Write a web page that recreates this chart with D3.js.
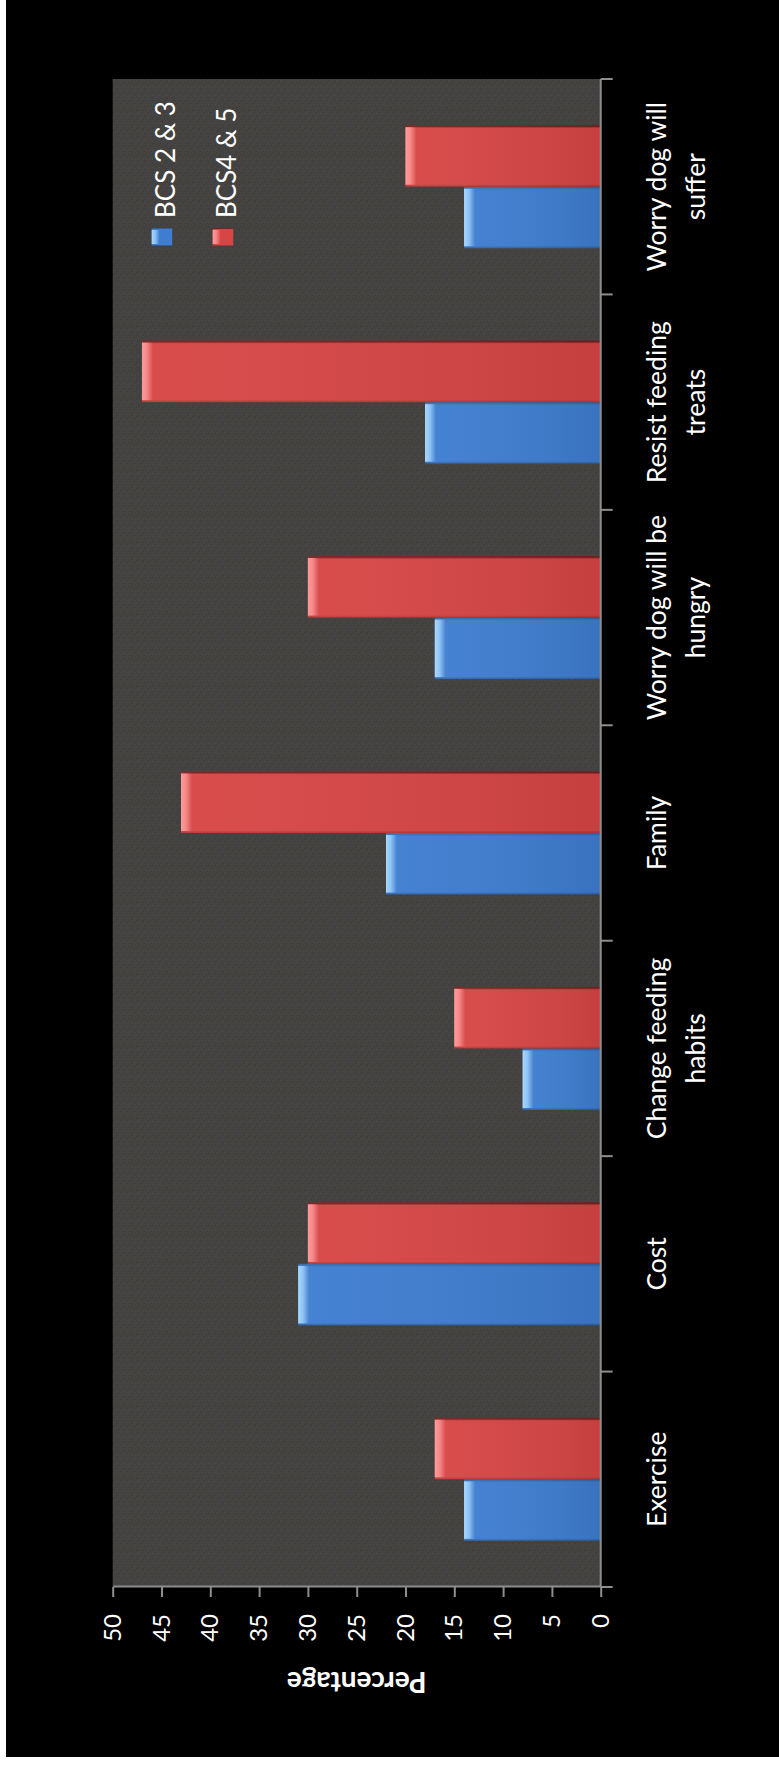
<!DOCTYPE html>
<html>
<head>
<meta charset="utf-8">
<script src="https://cdn.jsdelivr.net/npm/d3@7"></script>
<style>
  html, body { margin: 0; padding: 0; background: #ffffff; }
  svg { display: block; }
</style>
</head>
<body>
<script>
// ---- data ----
const categories = ["Exercise", "Cost", "Change feeding habits", "Family",
                    "Worry dog will be hungry", "Resist feeding treats", "Worry dog will suffer"];
const categoryLines = [["Exercise"], ["Cost"], ["Change feeding", "habits"], ["Family"],
                       ["Worry dog will be", "hungry"], ["Resist feeding", "treats"], ["Worry dog will", "suffer"]];
const seriesNames = ["BCS 2 & 3", "BCS4 & 5"];
const bcs23 = [14, 31, 8, 22, 17, 18, 14];
const bcs45 = [17, 30, 15, 43, 30, 47, 20];
const valueTicks = [0, 5, 10, 15, 20, 25, 30, 35, 40, 45, 50];
const axisTitle = "Percentage";

// ---- layout (chart drawn upright, then rotated -90deg onto the page) ----
const PW = 779, PH = 1770;
const svg = d3.select("body").append("svg").attr("width", PW).attr("height", PH);

const defs = svg.append("defs");
// speckled plot background
const pat = defs.append("pattern").attr("id", "speck").attr("patternUnits", "userSpaceOnUse")
  .attr("width", 9).attr("height", 7);
pat.append("rect").attr("width", 9).attr("height", 7).attr("fill", "#45433f");
[[1,1,"#3a3548"],[5,0,"#4c4845"],[3,3,"#363a47"],[7,4,"#3d3650"],[0,5,"#4d4a46"],[6,6,"#343c4a"],[4,5,"#3b3845"],[8,2,"#4a4744"]]
  .forEach(([x, y, c]) => pat.append("rect").attr("x", x).attr("y", y).attr("width", 1).attr("height", 1).attr("fill", c));

function barGrad(id, edgeL, body, edgeR) {
  const g = defs.append("linearGradient").attr("id", id).attr("x1", 0).attr("y1", 0).attr("x2", 1).attr("y2", 0);
  [[0, edgeL], [0.04, body], [0.5, body], [0.95, body], [0.98, edgeR], [1, edgeR]]
    .forEach(([o, c]) => g.append("stop").attr("offset", o).attr("stop-color", c));
}
barGrad("gBlue", "#2c5d9c", "#3e7dd0", "#3569ae");
barGrad("gRed", "#b23434", "#d74545", "#7a1f1f");

function capGrad(id, light) {
  const g = defs.append("linearGradient").attr("id", id).attr("x1", 0).attr("y1", 0).attr("x2", 0).attr("y2", 1);
  g.append("stop").attr("offset", 0).attr("stop-color", light).attr("stop-opacity", 1);
  g.append("stop").attr("offset", 0.45).attr("stop-color", light).attr("stop-opacity", 0.75);
  g.append("stop").attr("offset", 1).attr("stop-color", light).attr("stop-opacity", 0);
}
capGrad("cBlue", "#a6d8ff");
capGrad("cRed", "#ff9c9c");

const shade = defs.append("linearGradient").attr("id", "shade").attr("x1", 0).attr("y1", 0).attr("x2", 0).attr("y2", 1);
shade.append("stop").attr("offset", 0).attr("stop-color", "#ffffff").attr("stop-opacity", 0.04);
shade.append("stop").attr("offset", 1).attr("stop-color", "#000000").attr("stop-opacity", 0.08);

// page background: black frame with thin white margin left/bottom
svg.append("rect").attr("x", 6).attr("y", 0).attr("width", PW - 6).attr("height", 1757).attr("fill", "#000000");

// upright chart group: upright (X,Y) -> page (Y, 1770 - X)
const g = svg.append("g").attr("transform", `translate(0,${PH}) rotate(-90)`);

const plot = { left: 183, right: 1691, top: 112.7, bottom: 600.7 };

const x = d3.scaleBand().domain(categories).range([plot.left, plot.right]).padding(0);
const bw = x.bandwidth();
const xs = d3.scaleBand().domain(seriesNames).range([bw * 0.75 / 3.5, bw * 2.75 / 3.5]).padding(0);
const y = d3.scaleLinear().domain([0, 50]).range([plot.bottom, plot.top]);

g.append("rect").attr("x", plot.left).attr("y", plot.top)
  .attr("width", plot.right - plot.left).attr("height", plot.bottom - plot.top)
  .attr("fill", "url(#speck)");

// bars
const series = [
  { name: seriesNames[0], values: bcs23, grad: "gBlue", cap: "cBlue" },
  { name: seriesNames[1], values: bcs45, grad: "gRed", cap: "cRed" }
];
series.forEach(s => {
  const sg = g.append("g");
  const rows = categories.map((c, i) => ({ c, v: s.values[i] }));
  sg.selectAll("rect.bar").data(rows).join("rect").attr("class", "bar")
    .attr("x", d => x(d.c) + xs(s.name)).attr("width", xs.bandwidth())
    .attr("y", d => y(d.v)).attr("height", d => y(0) - y(d.v))
    .attr("fill", `url(#${s.grad})`);
  sg.selectAll("rect.shade").data(rows).join("rect").attr("class", "shade")
    .attr("x", d => x(d.c) + xs(s.name)).attr("width", xs.bandwidth())
    .attr("y", d => y(d.v)).attr("height", d => y(0) - y(d.v))
    .attr("fill", "url(#shade)");
  sg.selectAll("rect.cap").data(rows).join("rect").attr("class", "cap")
    .attr("x", d => x(d.c) + xs(s.name) + 2).attr("width", xs.bandwidth() - 4)
    .attr("y", d => y(d.v)).attr("height", 11)
    .attr("fill", `url(#${s.cap})`);
});

// value axis (upright left axis)
const axisColor = "#8e8e8e";
const yAxis = d3.axisLeft(y).tickValues(valueTicks).tickSize(10).tickPadding(17).tickSizeOuter(0);
const ya = g.append("g").attr("transform", `translate(${plot.left},0)`).call(yAxis);
ya.select(".domain").attr("stroke", axisColor).attr("stroke-width", 2);
ya.selectAll(".tick line").attr("stroke", axisColor).attr("stroke-width", 2);
ya.selectAll(".tick text").attr("fill", "#ffffff")
  .style("font-family", "Lato, 'DejaVu Sans', sans-serif").style("font-size", "24px");

// category axis (upright bottom axis) with ticks at band boundaries
const boundaries = categories.map(c => x(c)).concat([x.range()[1]]);
g.append("line").attr("x1", plot.left).attr("x2", plot.right).attr("y1", plot.bottom).attr("y2", plot.bottom)
  .attr("stroke", axisColor).attr("stroke-width", 2);
g.selectAll("line.ctick").data(boundaries).join("line").attr("class", "ctick")
  .attr("x1", d => d).attr("x2", d => d).attr("y1", plot.bottom).attr("y2", plot.bottom + 12)
  .attr("stroke", axisColor).attr("stroke-width", 2);

const lineBase = [666, 705];
const labels = g.selectAll("text.cat").data(categories).join("text").attr("class", "cat")
  .attr("text-anchor", "middle").attr("fill", "#ffffff")
  .style("font-family", "Lato, 'DejaVu Sans', sans-serif").style("font-size", "26.5px");
labels.each(function (c, i) {
  d3.select(this).selectAll("tspan").data(categoryLines[i]).join("tspan")
    .attr("x", x(c) + bw / 2).attr("y", (d, j) => lineBase[j]).text(d => d);
});

// axis title
g.append("text").attr("transform", `translate(98,${(plot.top + plot.bottom) / 2}) rotate(-90)`)
  .attr("text-anchor", "middle").attr("fill", "#ffffff")
  .style("font-family", "Lato, 'DejaVu Sans', sans-serif").style("font-size", "28px").style("font-weight", "bold")
  .text(axisTitle);

// legend
const legendY = [151.7, 212.7];
const leg = g.selectAll("g.leg").data(series).join("g").attr("class", "leg");
leg.append("rect").attr("x", 1524.3).attr("y", (d, i) => legendY[i]).attr("width", 17.4).attr("height", 20.5)
  .attr("fill", d => `url(#${d.grad})`);
leg.append("rect").attr("x", 1526).attr("y", (d, i) => legendY[i]).attr("width", 14).attr("height", 8)
  .attr("fill", d => `url(#${d.cap})`);
leg.append("text").attr("x", 1552).attr("y", (d, i) => legendY[i] + 23.3)
  .attr("fill", "#ffffff")
  .style("font-family", "Lato, 'DejaVu Sans', sans-serif").style("font-size", "26px")
  .text(d => d.name);
</script>
</body>
</html>
